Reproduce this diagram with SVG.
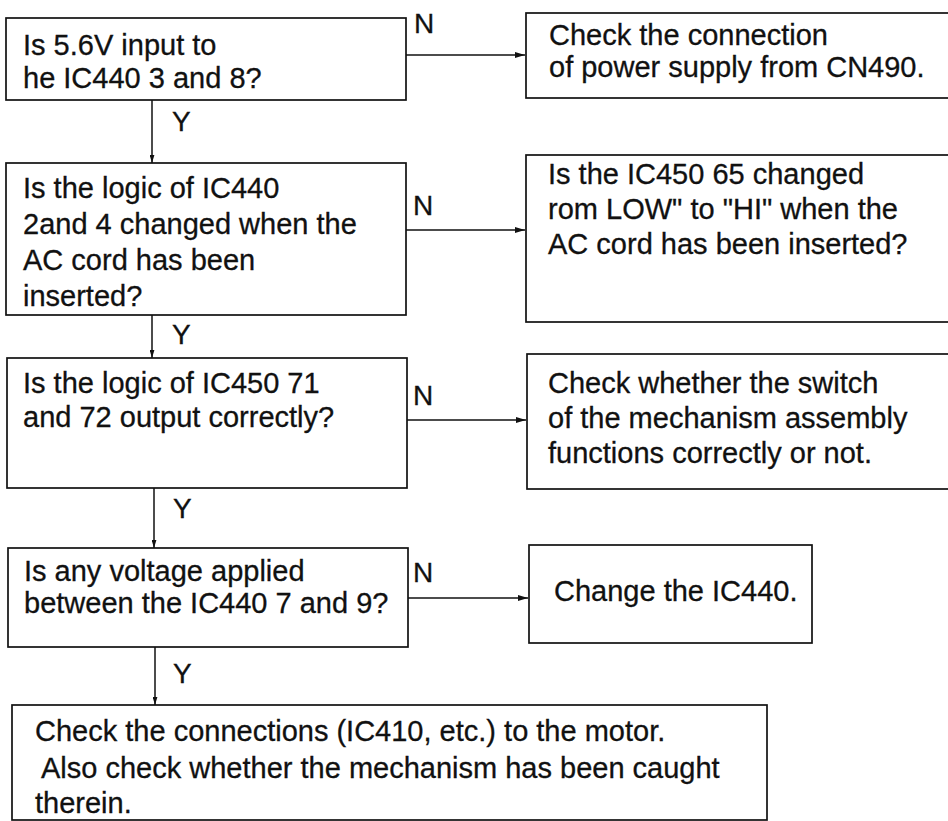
<svg xmlns="http://www.w3.org/2000/svg" width="948" height="821" viewBox="0 0 948 821">
<style>
.box{fill:#fff;stroke:#111;stroke-width:1.7}
.t{font-family:"Liberation Sans",Arial,sans-serif;font-size:29px;fill:#111;stroke:#111;stroke-width:0.3}
.lbl{font-family:"Liberation Sans",Arial,sans-serif;font-size:28px;fill:#111;stroke:#111;stroke-width:0.3}
.c{fill:none;stroke:#111;stroke-width:1.5}
</style>
<defs>
<marker id="ah" viewBox="0 0 10 6" refX="10" refY="3" markerWidth="10" markerHeight="6" markerUnits="userSpaceOnUse" orient="auto">
<path d="M0,0 L10,3 L0,6 Z" fill="#111"/>
</marker>
<marker id="av" viewBox="0 0 10 6" refX="10" refY="3" markerWidth="8" markerHeight="5" markerUnits="userSpaceOnUse" orient="auto">
<path d="M0,0 L10,3 L0,6 Z" fill="#111"/>
</marker>
</defs>
<rect width="948" height="821" fill="#fff"/>

<g id="connectors">
<path class="c" d="M406,55 H525" marker-end="url(#ah)"/>
<path class="c" d="M152,100 V163" marker-end="url(#av)"/>
<path class="c" d="M406,230 H525" marker-end="url(#ah)"/>
<path class="c" d="M152,315 V358" marker-end="url(#av)"/>
<path class="c" d="M407,420 H526" marker-end="url(#ah)"/>
<path class="c" d="M154,488 V548" marker-end="url(#av)"/>
<path class="c" d="M408,598 H528" marker-end="url(#ah)"/>
<path class="c" d="M155,647 V705" marker-end="url(#av)"/>
<text class="lbl" x="414" y="33">N</text>
<text class="lbl" x="172" y="131">Y</text>
<text class="lbl" x="413" y="215">N</text>
<text class="lbl" x="172" y="344">Y</text>
<text class="lbl" x="413" y="405">N</text>
<text class="lbl" x="173" y="518">Y</text>
<text class="lbl" x="413" y="582">N</text>
<text class="lbl" x="173" y="683">Y</text>
</g>

<g id="q1">
<rect class="box" x="6" y="18" width="400" height="82"/>
<text class="t" x="23" y="55">Is 5.6V input to</text>
<text class="t" x="23" y="88">he IC440 3 and 8?</text>
</g>

<g id="a1">
<rect class="box" x="526" y="13" width="440" height="85"/>
<text class="t" x="549" y="45">Check the connection</text>
<text class="t" x="549" y="77">of power supply from CN490.</text>
</g>

<g id="q2">
<rect class="box" x="6" y="163" width="400" height="152"/>
<text class="t" x="23" y="198">Is the logic of IC440</text>
<text class="t" x="23" y="234">2and 4 changed when the</text>
<text class="t" x="23" y="270">AC cord has been</text>
<text class="t" x="23" y="306">inserted?</text>
</g>

<g id="a2">
<rect class="box" x="526" y="155" width="440" height="167"/>
<text class="t" x="548" y="184">Is the IC450 65 changed</text>
<text class="t" x="548" y="219">rom LOW" to "HI" when the</text>
<text class="t" x="548" y="254">AC cord has been inserted?</text>
</g>

<g id="q3">
<rect class="box" x="7" y="358" width="400" height="130"/>
<text class="t" x="23" y="393">Is the logic of IC450 71</text>
<text class="t" x="23" y="427">and 72 output correctly?</text>
</g>

<g id="a3">
<rect class="box" x="527" y="354" width="440" height="135"/>
<text class="t" x="548" y="393">Check whether the switch</text>
<text class="t" x="548" y="428">of the mechanism assembly</text>
<text class="t" x="548" y="463">functions correctly or not.</text>
</g>

<g id="q4">
<rect class="box" x="8" y="548" width="400" height="99"/>
<text class="t" x="24" y="581">Is any voltage applied</text>
<text class="t" x="24" y="613">between the IC440 7 and 9?</text>
</g>

<g id="a4">
<rect class="box" x="529" y="545" width="283" height="98"/>
<text class="t" x="554" y="601">Change the IC440.</text>
</g>

<g id="end">
<rect class="box" x="12" y="705" width="755" height="115"/>
<text class="t" x="35" y="741">Check the connections (IC410, etc.) to the motor.</text>
<text class="t" x="41" y="778">Also check whether the mechanism has been caught</text>
<text class="t" x="35" y="813">therein.</text>
</g>
</svg>
